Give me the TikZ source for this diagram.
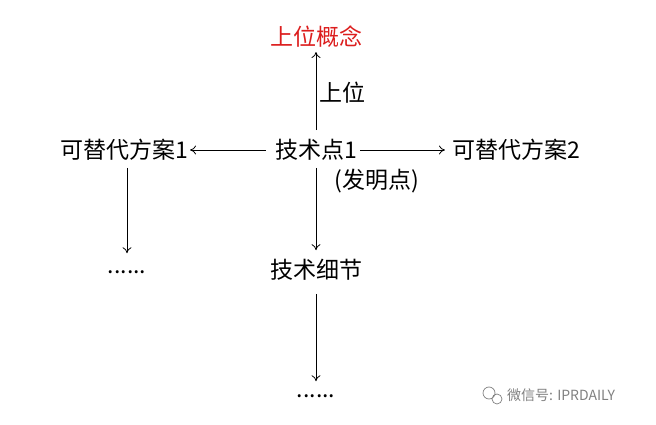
\documentclass[tikz,border=0pt]{standalone}
\usepackage{fontspec}
\setmainfont{Noto Sans CJK SC}
\usetikzlibrary{arrows.meta}
\begin{document}
\begin{tikzpicture}[x=1pt,y=-1pt,
  lbl/.style={inner sep=1pt,font=\fontsize{23}{25}\selectfont},
  arr/.style={-{To[length=6pt,width=9pt]},line width=0.8pt,shorten >=6pt,shorten <=6pt}]
\useasboundingbox (0,0) rectangle (656,425);
\node[lbl,text={rgb,255:red,220;green,30;blue,30}] (sup) at (316,37) {上位概念};
\node[lbl] (tp) at (316,150) {技术点1};
\node[lbl] (a1) at (124,150) {可替代方案1};
\node[lbl] (a2) at (516,150) {可替代方案2};
\node[lbl] (inv) at (377,181) {(发明点)};
\node[lbl] (det) at (316,270) {技术细节};
\node[lbl] (d1) at (127,272) {......};
\node[lbl] (d2) at (316,396) {......};
\node[lbl,anchor=west] (up) at (318,93) {上位};
\draw[arr,shorten <=8pt,shorten >=3pt] (tp.north) -- (sup.south);
\draw[arr,shorten >=1pt,shorten <=8pt] (tp.west) -- (a1.east);
\draw[arr,shorten <=2pt,shorten >=6pt] (tp.east) -- (a2.west);
\draw[arr,shorten >=8pt] (tp.south) -- (det.north);
\draw[arr,shorten >=16pt] (a1.south -| d1) -- (d1.north);
\draw[arr,shorten >=12pt,shorten <=12pt] (det.south) -- (d2.north);
\node[inner sep=0pt,text=gray,font=\fontsize{14}{16}\selectfont,anchor=west] (wm) at (507,395) {微信号: IPRDAILY};
\draw[gray,line width=0.7pt] (489,393) circle (6) (497,399) circle (5);
\end{tikzpicture}
\end{document}
